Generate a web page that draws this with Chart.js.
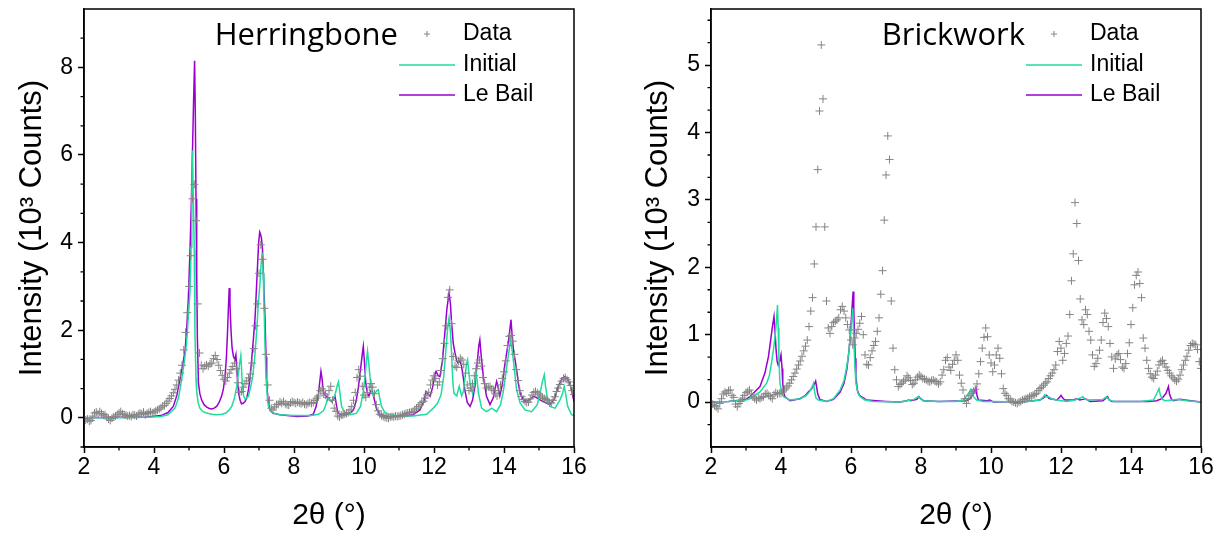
<!DOCTYPE html>
<html>
<head>
<meta charset="utf-8">
<script src="https://cdn.jsdelivr.net/npm/chart.js@4.4.1/dist/chart.umd.min.js"></script>
<style>
  html, body { margin: 0; padding: 0; background: #fff; }
  #wrap { position: relative; width: 1226px; height: 538px; }
  .panel { position: absolute; top: 0; width: 600px; height: 538px; }
</style>
</head>
<body>
<div id="wrap">
  <div class="panel" style="left:0"><canvas id="herring" width="600" height="538"></canvas></div>
  <div class="panel" style="left:626px"><canvas id="brick" width="600" height="538"></canvas></div>
</div>
<script>
// 2theta grid of the measured patterns
const angle = [
  2,2.05,2.1,2.15,2.2,2.25,2.3,2.35,2.4,2.45,2.5,2.55,2.6,2.65,2.7,2.75,2.8,2.85,2.9,2.95,
  3,3.05,3.1,3.15,3.2,3.25,3.3,3.35,3.4,3.45,3.5,3.55,3.6,3.65,3.7,3.75,3.8,3.85,3.9,3.95,
  4,4.05,4.1,4.15,4.2,4.25,4.3,4.35,4.4,4.45,4.5,4.55,4.6,4.65,4.7,4.75,4.8,4.85,4.9,4.95,
  5,5.05,5.1,5.15,5.2,5.25,5.3,5.35,5.4,5.45,5.5,5.55,5.6,5.65,5.7,5.75,5.8,5.85,5.9,5.95,
  6,6.05,6.1,6.15,6.2,6.25,6.3,6.35,6.4,6.45,6.5,6.55,6.6,6.65,6.7,6.75,6.8,6.85,6.9,6.95,
  7,7.05,7.1,7.15,7.2,7.25,7.3,7.35,7.4,7.45,7.5,7.55,7.6,7.65,7.7,7.75,7.8,7.85,7.9,7.95,
  8,8.05,8.1,8.15,8.2,8.25,8.3,8.35,8.4,8.45,8.5,8.55,8.6,8.65,8.7,8.75,8.8,8.85,8.9,8.95,
  9,9.05,9.1,9.15,9.2,9.25,9.3,9.35,9.4,9.45,9.5,9.55,9.6,9.65,9.7,9.75,9.8,9.85,9.9,9.95,
  10,10.05,10.1,10.15,10.2,10.25,10.3,10.35,10.4,10.45,10.5,10.55,10.6,10.65,10.7,10.75,10.8,10.85,10.9,10.95,
  11,11.05,11.1,11.15,11.2,11.25,11.3,11.35,11.4,11.45,11.5,11.55,11.6,11.65,11.7,11.75,11.8,11.85,11.9,11.95,
  12,12.05,12.1,12.15,12.2,12.25,12.3,12.35,12.4,12.45,12.5,12.55,12.6,12.65,12.7,12.75,12.8,12.85,12.9,12.95,
  13,13.05,13.1,13.15,13.2,13.25,13.3,13.35,13.4,13.45,13.5,13.55,13.6,13.65,13.7,13.75,13.8,13.85,13.9,13.95,
  14,14.05,14.1,14.15,14.2,14.25,14.3,14.35,14.4,14.45,14.5,14.55,14.6,14.65,14.7,14.75,14.8,14.85,14.9,14.95,
  15,15.05,15.1,15.15,15.2,15.25,15.3,15.35,15.4,15.45,15.5,15.55,15.6,15.65,15.7,15.75,15.8,15.85,15.9,15.95,16
];

// Herringbone, measured (10^3 counts)
const herringData = [
  -0.02,-0.05,-0.03,-0.08,-0.06,0.04,0.11,0.13,0.09,0.14,0.10,0.06,0.07,0.02,-0.03,-0.06,-0.01,0.02,0.04,0.07,
  0.11,0.14,0.09,0.07,0.06,0.04,0.05,0.03,0.07,0.06,0.04,0.08,0.11,0.09,0.13,0.07,0.10,0.12,0.14,0.11,
  0.13,0.16,0.18,0.20,0.23,0.27,0.28,0.33,0.38,0.44,0.50,0.57,0.65,0.75,0.86,1.02,1.20,1.55,1.95,2.40,
  3.00,3.70,5.00,5.33,4.50,2.60,1.48,1.20,1.12,1.18,1.21,1.18,1.23,1.25,1.35,1.42,1.33,1.20,1.08,0.97,
  0.88,0.84,0.92,1.02,1.10,1.17,1.25,1.12,0.80,0.58,0.60,0.70,0.78,0.84,0.91,1.00,1.25,1.58,2.10,2.60,
  3.30,3.95,3.62,2.50,1.45,0.75,0.40,0.22,0.18,0.25,0.30,0.31,0.36,0.33,0.37,0.32,0.30,0.29,0.34,0.37,
  0.35,0.33,0.36,0.34,0.32,0.35,0.31,0.30,0.33,0.35,0.33,0.35,0.40,0.45,0.50,0.62,0.66,0.55,0.52,0.46,
  0.62,0.72,0.40,0.22,0.15,0.04,0.02,0.06,0.07,0.09,0.10,0.12,0.18,0.26,0.40,0.58,0.92,1.10,0.95,0.72,
  0.52,0.47,0.58,0.70,0.78,0.70,0.55,0.30,0.16,0.08,0.05,0.03,0.01,0.00,-0.01,0.02,0.03,0.02,0.04,0.03,
  0.04,0.05,0.07,0.08,0.10,0.11,0.12,0.13,0.14,0.18,0.22,0.26,0.30,0.35,0.38,0.45,0.52,0.58,0.75,0.86,
  0.96,0.90,0.75,0.82,1.08,1.35,1.70,2.10,2.75,2.92,2.15,1.40,1.18,1.15,1.30,1.36,1.32,1.22,1.02,0.75,
  0.62,0.68,0.78,0.96,1.12,1.25,1.32,1.18,0.92,0.78,0.68,0.70,0.72,0.66,0.62,0.55,0.50,0.62,0.75,0.90,
  1.05,1.30,1.65,1.86,1.88,1.75,1.45,1.10,0.85,0.62,0.49,0.42,0.37,0.35,0.36,0.43,0.52,0.58,0.60,0.57,
  0.54,0.50,0.47,0.44,0.42,0.39,0.35,0.34,0.40,0.48,0.60,0.68,0.76,0.84,0.90,0.92,0.87,0.82,0.74,0.62,0.53
];

// Herringbone, calculated patterns [2theta, intensity]
const herringInitial = [
  [2,0],[3,0],[3.8,0.01],[4.2,0.03],[4.4,0.07],[4.6,0.22],[4.7,0.45],[4.79,0.87],[4.87,1.3],[4.93,1.7],
  [4.98,2.3],[5.03,2.9],[5.06,3.9],[5.08,5.0],[5.1,6.1],[5.12,5.2],[5.15,3.84],[5.17,1.94],[5.2,0.9],[5.22,0.6],
  [5.26,0.35],[5.31,0.22],[5.4,0.14],[5.5,0.11],[5.65,0.08],[5.8,0.07],[5.95,0.08],[6.05,0.11],[6.15,0.18],[6.22,0.26],
  [6.3,0.45],[6.36,0.7],[6.41,1.0],[6.44,1.2],[6.48,1.42],[6.5,1.15],[6.52,0.79],[6.56,0.5],[6.6,0.43],[6.65,0.45],
  [6.7,0.5],[6.76,0.7],[6.82,0.94],[6.88,1.4],[6.93,1.94],[6.98,2.6],[7.03,3.1],[7.06,3.5],[7.09,3.77],[7.12,3.3],
  [7.14,2.7],[7.17,1.7],[7.2,0.94],[7.24,0.45],[7.27,0.26],[7.33,0.15],[7.41,0.11],[7.6,0.07],[8,0.05],[8.5,0.05],
  [8.7,0.08],[8.84,0.16],[8.91,0.3],[8.96,0.45],[9,0.42],[9.05,0.38],[9.12,0.43],[9.18,0.55],[9.23,0.72],[9.27,0.82],
  [9.3,0.65],[9.36,0.26],[9.45,0.12],[9.6,0.07],[9.78,0.1],[9.9,0.26],[9.98,0.6],[10.03,0.94],[10.07,1.3],[10.1,1.52],
  [10.13,1.3],[10.17,0.94],[10.22,0.6],[10.27,0.5],[10.33,0.58],[10.38,0.63],[10.41,0.64],[10.45,0.45],[10.5,0.26],[10.6,0.12],
  [10.74,0.07],[11,0.04],[11.4,0.04],[11.79,0.08],[11.98,0.22],[12.1,0.33],[12.2,0.52],[12.28,0.95],[12.34,1.55],[12.39,2.05],
  [12.43,2.28],[12.47,1.95],[12.5,1.5],[12.54,0.8],[12.57,0.56],[12.65,0.5],[12.72,0.72],[12.79,0.5],[12.84,0.6],[12.88,0.87],
  [12.93,1.25],[12.96,1.33],[13,1.0],[13.03,0.79],[13.1,0.56],[13.16,0.8],[13.2,1.06],[13.24,0.8],[13.27,0.56],[13.36,0.22],
  [13.5,0.14],[13.65,0.22],[13.79,0.14],[13.9,0.3],[13.98,0.6],[14.05,1.0],[14.12,1.4],[14.19,1.78],[14.24,1.5],[14.29,1.15],
  [14.36,0.64],[14.46,0.34],[14.6,0.18],[14.79,0.14],[14.95,0.3],[15.03,0.55],[15.09,0.8],[15.15,0.98],[15.19,0.7],[15.24,0.45],
  [15.31,0.26],[15.46,0.22],[15.6,0.41],[15.67,0.55],[15.72,0.72],[15.76,0.55],[15.82,0.26],[15.93,0.07],[16,0.05]
];
const herringLeBail = [
  [2,0],[3,0.01],[3.8,0.02],[4.2,0.05],[4.4,0.12],[4.55,0.26],[4.65,0.5],[4.74,0.87],[4.82,1.2],[4.89,1.55],
  [4.94,2.1],[4.98,2.7],[5.03,3.84],[5.07,5.0],[5.1,6.1],[5.13,7.2],[5.16,8.15],[5.18,7.0],[5.2,5.0],[5.22,3.3],
  [5.24,1.8],[5.27,0.79],[5.31,0.55],[5.36,0.41],[5.43,0.3],[5.5,0.25],[5.58,0.21],[5.65,0.2],[5.72,0.22],[5.79,0.26],
  [5.86,0.35],[5.93,0.49],[5.98,0.65],[6.03,0.94],[6.07,1.4],[6.1,1.94],[6.13,2.6],[6.15,2.96],[6.17,2.6],[6.2,2.0],
  [6.23,1.6],[6.27,1.4],[6.31,1.33],[6.34,1.44],[6.36,1.2],[6.39,0.8],[6.42,0.55],[6.46,0.4],[6.5,0.32],[6.55,0.33],
  [6.6,0.37],[6.65,0.45],[6.7,0.64],[6.75,0.95],[6.79,1.33],[6.84,1.8],[6.89,2.32],[6.93,3.0],[6.96,3.5],[6.99,4.0],
  [7.02,4.24],[7.04,4.2],[7.07,4.1],[7.1,3.84],[7.13,3.2],[7.17,2.32],[7.2,1.4],[7.22,0.79],[7.26,0.4],[7.31,0.18],
  [7.4,0.1],[7.6,0.07],[8.08,0.03],[8.4,0.04],[8.55,0.08],[8.63,0.25],[8.7,0.56],[8.74,0.85],[8.77,1.06],[8.8,0.9],
  [8.84,0.6],[8.9,0.5],[8.96,0.48],[9.03,0.4],[9.08,0.37],[9.13,0.43],[9.17,0.49],[9.21,0.3],[9.25,0.12],[9.35,0.07],
  [9.5,0.07],[9.62,0.12],[9.7,0.18],[9.78,0.4],[9.84,0.7],[9.91,1.17],[9.95,1.45],[9.98,1.63],[10.01,1.3],[10.05,0.8],
  [10.1,0.55],[10.14,0.5],[10.2,0.62],[10.24,0.6],[10.3,0.4],[10.36,0.2],[10.46,0.07],[10.7,0.03],[11.03,0.03],[11.4,0.07],
  [11.6,0.18],[11.72,0.4],[11.77,0.6],[11.82,0.55],[11.89,0.49],[11.96,0.7],[12.03,1.0],[12.06,1.06],[12.12,0.96],[12.17,0.94],
  [12.24,1.3],[12.31,1.94],[12.37,2.5],[12.43,2.85],[12.47,2.6],[12.5,2.2],[12.55,1.7],[12.6,1.48],[12.65,1.3],[12.69,1.25],
  [12.74,1.3],[12.79,1.17],[12.84,0.9],[12.88,0.64],[12.95,0.35],[13.03,0.26],[13.1,0.4],[13.17,0.72],[13.24,1.3],[13.28,1.65],
  [13.31,1.78],[13.35,1.4],[13.41,0.94],[13.5,0.49],[13.6,0.3],[13.69,0.45],[13.74,0.65],[13.79,0.83],[13.83,0.7],[13.88,0.5],
  [13.95,0.75],[14.03,1.25],[14.1,1.6],[14.15,1.9],[14.2,2.24],[14.23,1.9],[14.27,1.55],[14.32,1.3],[14.36,1.1],[14.41,0.8],
  [14.46,0.56],[14.55,0.42],[14.65,0.37],[14.75,0.42],[14.84,0.49],[14.93,0.46],[15.03,0.41],[15.15,0.36],[15.31,0.3],[15.45,0.45],
  [15.55,0.72],[15.65,0.88],[15.74,0.94],[15.8,0.9],[15.88,0.79],[15.94,0.6],[16,0.37]
];

// Brickwork, measured (10^3 counts)
const brickData = [
  0.00,-0.03,-0.05,-0.07,-0.10,-0.02,0.05,0.12,0.15,0.13,0.17,0.18,0.10,0.07,-0.03,-0.07,-0.02,0.01,0.06,0.10,
  0.14,0.16,0.18,0.12,0.08,0.05,0.03,0.06,0.05,0.07,0.08,0.12,0.13,0.10,0.08,0.05,0.11,0.14,0.12,0.13,
  0.13,0.15,0.18,0.21,0.24,0.28,0.33,0.38,0.43,0.49,0.55,0.61,0.68,0.76,0.83,0.92,1.12,1.35,1.55,2.05,
  2.60,3.45,4.32,5.30,4.50,2.60,1.50,1.10,1.02,1.12,1.18,1.20,1.22,1.25,1.37,1.42,1.35,1.25,1.15,1.07,
  0.92,0.85,0.95,1.02,1.08,1.17,1.27,1.00,0.70,0.56,0.55,0.66,0.76,0.84,0.90,1.05,1.25,1.60,1.95,2.70,
  3.37,3.95,3.60,1.50,0.80,0.48,0.33,0.23,0.26,0.28,0.31,0.33,0.39,0.36,0.32,0.26,0.28,0.33,0.37,0.40,
  0.38,0.35,0.34,0.33,0.31,0.30,0.32,0.33,0.31,0.30,0.27,0.30,0.40,0.48,0.62,0.66,0.52,0.47,0.56,0.62,
  0.70,0.62,0.40,0.28,0.18,0.05,-0.02,0.05,0.10,0.13,0.16,0.19,0.27,0.42,0.60,0.80,0.96,1.10,0.97,0.70,
  0.58,0.45,0.55,0.70,0.80,0.65,0.42,0.20,0.13,0.10,0.05,0.03,0.01,0.00,-0.01,-0.02,0.00,0.01,0.03,0.04,
  0.05,0.06,0.08,0.09,0.10,0.11,0.13,0.17,0.20,0.22,0.25,0.28,0.30,0.35,0.39,0.43,0.48,0.55,0.75,0.90,
  0.80,0.62,0.72,0.87,0.98,1.30,1.80,2.20,2.96,2.65,2.10,1.53,1.22,1.15,1.37,1.30,1.05,0.92,0.70,0.53,
  0.57,0.65,0.77,0.92,1.18,1.32,1.24,1.12,0.87,0.67,0.50,0.64,0.70,0.72,0.63,0.52,0.50,0.57,0.72,0.88,
  1.15,1.40,1.74,1.88,1.93,1.76,1.55,0.95,0.80,0.62,0.50,0.42,0.37,0.35,0.40,0.46,0.55,0.60,0.62,0.57,
  0.52,0.47,0.43,0.39,0.36,0.33,0.31,0.34,0.40,0.48,0.55,0.62,0.68,0.77,0.84,0.87,0.86,0.85,0.78,0.60,0.50
];

// Brickwork, calculated patterns [2theta, intensity]
const brickInitial = [
  [2,0],[2.5,0.01],[3,0.03],[3.11,0.05],[3.4,0.15],[3.59,0.28],[3.67,0.4],[3.73,0.58],[3.79,0.8],[3.83,0.97],
  [3.87,1.2],[3.9,1.44],[3.92,1.1],[3.94,0.65],[3.97,0.28],[4.02,0.14],[4.07,0.08],[4.26,0.03],[4.54,0.05],[4.7,0.09],
  [4.78,0.13],[4.85,0.18],[4.9,0.24],[4.93,0.28],[4.96,0.15],[5,0.06],[5.07,0.03],[5.3,0.01],[5.5,0.05],[5.69,0.18],
  [5.8,0.32],[5.88,0.53],[5.94,0.75],[5.97,0.92],[6.01,1.15],[6.05,1.39],[6.07,1.1],[6.09,0.8],[6.12,0.45],[6.14,0.28],
  [6.2,0.13],[6.26,0.08],[6.4,0.03],[6.64,0.01],[7.4,0],[7.59,0.02],[7.8,0.04],[7.92,0.08],[7.97,0.06],[8.07,0.02],
  [8.5,0.01],[9,0.01],[9.21,0.03],[9.35,0.12],[9.42,0.19],[9.45,0.17],[9.5,0.08],[9.59,0.03],[9.78,0.01],[10.07,0.01],
  [10.92,0],[11.4,0.03],[11.5,0.08],[11.54,0.11],[11.58,0.08],[11.64,0.08],[11.73,0.05],[11.88,0.03],[12.16,0.01],[12.4,0.03],
  [12.55,0.06],[12.62,0.08],[12.7,0.04],[12.78,0.03],[13.2,0.04],[13.3,0.08],[13.38,0.03],[13.5,0.01],[14.26,0.01],[14.64,0.03],
  [14.73,0.12],[14.8,0.2],[14.84,0.1],[14.9,0.04],[14.97,0.02],[15.35,0.04],[15.45,0.03],[15.6,0.02],[15.97,0],[16,0]
];
const brickLeBail = [
  [2,0],[2.5,0.01],[3,0.04],[3.11,0.08],[3.4,0.23],[3.54,0.43],[3.64,0.67],[3.7,0.9],[3.75,1.1],[3.8,1.27],
  [3.83,1.05],[3.86,0.77],[3.89,0.6],[3.92,0.55],[3.96,0.6],[4,0.7],[4.03,0.5],[4.05,0.28],[4.08,0.14],[4.11,0.08],
  [4.26,0.02],[4.54,0.05],[4.7,0.1],[4.78,0.15],[4.88,0.2],[4.94,0.25],[4.99,0.31],[5.02,0.22],[5.05,0.12],[5.11,0.04],
  [5.3,0.01],[5.5,0.04],[5.69,0.15],[5.8,0.28],[5.88,0.48],[5.93,0.7],[5.97,0.92],[6.02,1.32],[6.06,1.64],[6.08,1.35],
  [6.1,1.02],[6.12,0.65],[6.14,0.38],[6.18,0.18],[6.24,0.1],[6.45,0.03],[7,0.01],[7.4,0],[7.6,0.02],[7.64,0.03],
  [7.7,0.02],[7.88,0.04],[7.94,0.08],[7.99,0.05],[8.07,0.02],[8.5,0.01],[9.3,0.02],[9.4,0.05],[9.5,0.13],[9.57,0.21],
  [9.6,0.1],[9.64,0.03],[9.88,0.02],[9.97,0.03],[10.07,0],[11,0.01],[11.4,0.03],[11.52,0.07],[11.59,0.1],[11.65,0.06],
  [11.69,0.05],[11.88,0.03],[11.96,0.07],[12,0.1],[12.05,0.06],[12.11,0.03],[12.35,0.03],[12.45,0.05],[12.54,0.03],[12.62,0.04],
  [12.7,0.05],[12.83,0.01],[13.2,0.02],[13.3,0.07],[13.33,0.08],[13.38,0.03],[13.45,0.01],[14.5,0.01],[14.73,0.02],[14.88,0.05],
  [15,0.13],[15.07,0.23],[15.1,0.12],[15.15,0.05],[15.21,0.02],[15.4,0.04],[15.54,0.03],[16,0]
];

// axis ticks
const xTicks = [2, 4, 6, 8, 10, 12, 14, 16];
const xMinor = [3, 5, 7, 9, 11, 13, 15];
const herringYTicks = [0, 2, 4, 6, 8];
const herringYMinor = [-2/3, 2/3, 4/3, 8/3, 10/3, 14/3, 16/3, 20/3, 22/3, 26/3];
const brickYTicks = [0, 1, 2, 3, 4, 5];
const brickYMinor = [-1/3, 1/3, 2/3, 4/3, 5/3, 7/3, 8/3, 10/3, 11/3, 13/3, 14/3, 16/3, 17/3];

const seriesNames = ['Data', 'Initial', 'Le Bail'];
const dataGray = '#858585';
const initialGreen = '#1fdc9f';
const leBailPurple = '#9a00cf';
const font = '"Liberation Sans", Arial, sans-serif';

// frame, minor ticks, panel title and legend drawn inside the plot box
const decor = {
  id: 'decor',
  afterDraw(chart, args, o) {
    const { ctx, chartArea: a, scales } = chart;
    ctx.save();
    ctx.strokeStyle = '#000';
    ctx.lineWidth = 1.5;
    ctx.strokeRect(a.left, a.top, a.right - a.left, a.bottom - a.top);

    ctx.lineWidth = 1.3;
    ctx.beginPath();
    o.minorX.forEach(v => {
      const x = scales.x.getPixelForValue(v);
      ctx.moveTo(x, a.bottom); ctx.lineTo(x, a.bottom + 3.5);
    });
    o.minorY.forEach(v => {
      const y = scales.y.getPixelForValue(v);
      ctx.moveTo(a.left - 3.5, y); ctx.lineTo(a.left, y);
    });
    ctx.stroke();

    ctx.fillStyle = '#000';
    ctx.font = '31px "Open Sans", sans-serif';
    ctx.textAlign = 'right';
    ctx.textBaseline = 'alphabetic';
    ctx.fillText(o.title, a.left + 314, 45);

    // legend
    const lx = a.left + 315, tx = a.left + 379;
    const rows = [34, 65, 95];
    ctx.strokeStyle = dataGray;
    ctx.lineWidth = 1;
    ctx.beginPath();
    ctx.moveTo(lx + 28 - 3, rows[0]); ctx.lineTo(lx + 28 + 3, rows[0]);
    ctx.moveTo(lx + 28, rows[0] - 3); ctx.lineTo(lx + 28, rows[0] + 3);
    ctx.stroke();
    [[initialGreen, rows[1]], [leBailPurple, rows[2]]].forEach(([c, y]) => {
      ctx.strokeStyle = c;
      ctx.lineWidth = 1.5;
      ctx.beginPath();
      ctx.moveTo(lx, y); ctx.lineTo(lx + 56, y);
      ctx.stroke();
    });
    ctx.font = '23px ' + font;
    ctx.textAlign = 'left';
    ctx.textBaseline = 'middle';
    seriesNames.forEach((n, i) => ctx.fillText(n, tx, rows[i]));
    ctx.restore();
  }
};

function makeChart(id, title, measured, initial, leBail, yMax, yTicks, yMinor, yWidth, rightPad) {
  const ctx = document.getElementById(id).getContext('2d');
  return new Chart(ctx, {
    type: 'scatter',
    data: {
      datasets: [
        {
          label: seriesNames[0],
          data: angle.map((x, i) => ({ x, y: measured[i] })),
          showLine: false,
          pointStyle: 'cross',
          pointRadius: 4,
          pointBorderWidth: 1,
          borderColor: dataGray,
          backgroundColor: dataGray
        },
        {
          label: seriesNames[1],
          data: initial.map(p => ({ x: p[0], y: p[1] })),
          showLine: true,
          borderColor: initialGreen,
          borderWidth: 1.5,
          pointRadius: 0
        },
        {
          label: seriesNames[2],
          data: leBail.map(p => ({ x: p[0], y: p[1] })),
          showLine: true,
          borderColor: leBailPurple,
          borderWidth: 1.5,
          pointRadius: 0
        }
      ]
    },
    options: {
      responsive: false,
      animation: false,
      devicePixelRatio: 1,
      layout: { padding: { top: 9, right: rightPad, left: 0, bottom: 0 } },
      plugins: {
        legend: { display: false },
        tooltip: { enabled: false },
        decor: { title, minorX: xMinor, minorY: yMinor }
      },
      scales: {
        x: {
          type: 'linear',
          min: 2, max: 16,
          afterBuildTicks: s => { s.ticks = xTicks.map(v => ({ value: v })); },
          afterFit: s => { s.height = 91; s.paddingLeft = 0; s.paddingRight = 0; },
          grid: { drawOnChartArea: false, color: '#000', tickLength: 6, tickWidth: 1.5 },
          border: { color: '#000', width: 1.5 },
          ticks: { color: '#000', font: { family: font, size: 23 }, padding: 1, maxRotation: 0 },
          title: { display: true, text: '2θ (°)', color: '#000', font: { family: font, size: 30 }, padding: { top: 0, bottom: 4 } }
        },
        y: {
          type: 'linear',
          min: -2/3, max: yMax,
          afterBuildTicks: s => { s.ticks = yTicks.map(v => ({ value: v })); },
          afterFit: s => { s.width = yWidth; s.paddingTop = 0; s.paddingBottom = 0; },
          grid: { drawOnChartArea: false, color: '#000', tickLength: 6, tickWidth: 1.5 },
          border: { color: '#000', width: 1.5 },
          ticks: { color: '#000', font: { family: font, size: 23 }, padding: 5 },
          title: { display: true, text: 'Intensity (10³ Counts)', color: '#000', font: { family: font, size: 31 }, padding: { top: 14, bottom: 0 } }
        }
      }
    },
    plugins: [decor]
  });
}

makeChart('herring', 'Herringbone', herringData, herringInitial, herringLeBail, 28/3, herringYTicks, herringYMinor, 84, 26);
makeChart('brick', 'Brickwork', brickData, brickInitial, brickLeBail, 35/6, brickYTicks, brickYMinor, 85, 25);
</script>
</body>
</html>
